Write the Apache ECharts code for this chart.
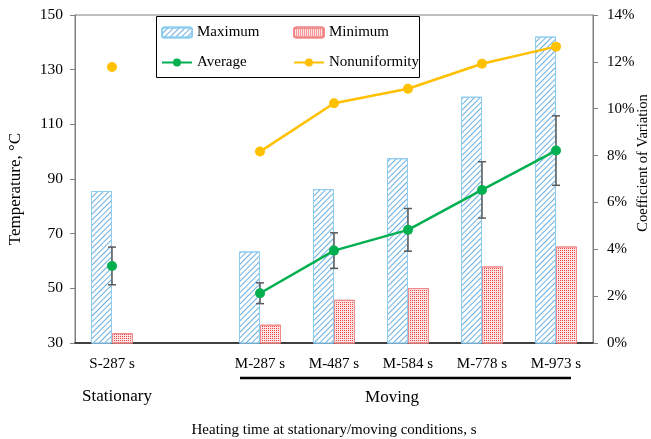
<!DOCTYPE html>
<html><head><meta charset="utf-8">
<script src="https://cdn.jsdelivr.net/npm/echarts@6/dist/echarts.min.js"></script>
<style>html,body{margin:0;padding:0;background:#fff;overflow:hidden}#c{width:651px;height:439px}</style>
</head><body><div id="c"></div>
<script>
var categories = ['S-287 s', '', 'M-287 s', 'M-487 s', 'M-584 s', 'M-778 s', 'M-973 s'];
var maximum = [85.6, null, 63.5, 86.3, 97.6, 120.1, 142.1];
var minimum = [33.6, null, 36.7, 45.8, 50.1, 58.0, 65.3];
var average = [58.2, null, 48.2, 63.8, 71.4, 86.0, 100.4];
var avgError = [6.9, null, 3.8, 6.5, 7.8, 10.3, 12.7];
var nonuniformity = [11.78, null, 8.17, 10.23, 10.85, 11.92, 12.65];
var leftTicks = {min: 30, max: 150, interval: 20};
var rightTicks = {min: 0, max: 14, interval: 2};
var leftTitle = 'Temperature, °C';
var rightTitle = 'Coefficient of Variation';
var xTitle = 'Heating time at stationary/moving conditions, s';
var groupLabels = ['Stationary', 'Moving'];

var FONT = 'Liberation Serif';
var errData = [];
for (var i = 0; i < categories.length; i++) {
  if (average[i] != null) errData.push([i, average[i] - avgError[i], average[i] + avgError[i]]);
}
var chart = echarts.init(document.getElementById('c'));
chart.setOption({
  animation: false,
  textStyle: {fontFamily: FONT},
  grid: {left: 75, right: 58, top: 15, bottom: 96, show: true, borderColor: '#7f7f7f', borderWidth: 1,
         outerBoundsMode: 'none', containLabel: false},
  legend: [
    {left: 161, top: 25, orient: 'vertical', padding: 0, itemWidth: 30, itemHeight: 10, itemGap: 15,
     data: ['Maximum', 'Average'], textStyle: {fontFamily: FONT, fontSize: 15, color: '#000', lineHeight: 15}},
    {left: 293, top: 25, orient: 'vertical', padding: 0, itemWidth: 30, itemHeight: 10, itemGap: 15,
     data: ['Minimum', 'Nonuniformity'], textStyle: {fontFamily: FONT, fontSize: 15, color: '#000', lineHeight: 15}}
  ],
  graphic: [
    {type: 'rect', left: 156, top: 16, z: 3, shape: {width: 263, height: 61}, style: {fill: '#fff', stroke: '#000', lineWidth: 1}},
    {type: 'line', z: 3, shape: {x1: 240, y1: 378, x2: 571, y2: 378}, style: {stroke: '#000', lineWidth: 2.5}},
    {type: 'text', z: 3, x: 117, y: 397, style: {text: groupLabels[0], font: '17px "Liberation Serif"', fill: '#000', textAlign: 'center', textVerticalAlign: 'middle'}},
    {type: 'text', z: 3, x: 392, y: 398, style: {text: groupLabels[1], font: '17px "Liberation Serif"', fill: '#000', textAlign: 'center', textVerticalAlign: 'middle'}},
    {type: 'text', z: 3, x: 16, y: 189, rotation: Math.PI / 2, style: {text: leftTitle, font: '17px "Liberation Serif"', fill: '#000', textAlign: 'center', textVerticalAlign: 'middle'}},
    {type: 'text', z: 3, x: 643, y: 163, rotation: Math.PI / 2, style: {text: rightTitle, font: '14.5px "Liberation Serif"', fill: '#000', textAlign: 'center', textVerticalAlign: 'middle'}}
  ],
  xAxis: {
    type: 'category', data: categories,
    name: xTitle, nameLocation: 'middle', nameGap: 80,
    nameTextStyle: {fontFamily: FONT, fontSize: 15, color: '#000'},
    axisLine: {lineStyle: {color: '#404040', width: 2}},
    axisTick: {show: false},
    axisLabel: {fontFamily: FONT, fontSize: 15, color: '#000', margin: 14, interval: 0}
  },
  yAxis: [
    {type: 'value', min: leftTicks.min, max: leftTicks.max, interval: leftTicks.interval,
     splitLine: {show: false},
     axisLine: {show: true, lineStyle: {color: '#7f7f7f'}},
     axisTick: {show: true, inside: false, length: 5, lineStyle: {color: '#7f7f7f'}},
     axisLabel: {fontFamily: FONT, fontSize: 15.5, color: '#000', margin: 12}},
    {type: 'value', min: rightTicks.min, max: rightTicks.max, interval: rightTicks.interval, position: 'right',
     splitLine: {show: false},
     axisLine: {show: true, lineStyle: {color: '#7f7f7f'}},
     axisTick: {show: true, inside: false, length: 5, lineStyle: {color: '#7f7f7f'}},
     axisLabel: {fontFamily: FONT, fontSize: 15, color: '#000', margin: 14, formatter: '{value}%'}}
  ],
  series: [
    {name: 'Maximum', type: 'bar', data: maximum, barWidth: 21, barGap: '0%', z: 2,
     itemStyle: {color: '#ffffff', borderColor: '#8fcdf0', borderWidth: 1,
       decal: {symbol: 'rect', symbolSize: 1, color: '#6aaee0', dashArrayX: [1, 0], dashArrayY: [1, 2.5], rotation: -Math.PI / 4}}},
    {name: 'Minimum', type: 'bar', data: minimum, barWidth: 21, z: 2,
     itemStyle: {color: '#fde2e2', borderColor: '#f08a8a', borderWidth: 1,
       decal: {symbol: 'rect', symbolSize: 1, color: '#ee4b4b', dashArrayX: [1, 1], dashArrayY: [1, 1], rotation: 0}}},
    {name: 'ErrorBars', type: 'custom', data: errData, z: 3,
     renderItem: function (params, api) {
       var x = api.value(0);
       var top = api.coord([x, api.value(2)]);
       var bot = api.coord([x, api.value(1)]);
       var w = 4;
       var st = {stroke: '#595959', lineWidth: 1.5};
       return {type: 'group', children: [
         {type: 'line', shape: {x1: top[0], y1: top[1], x2: bot[0], y2: bot[1]}, style: st},
         {type: 'line', shape: {x1: top[0] - w, y1: top[1], x2: top[0] + w, y2: top[1]}, style: st},
         {type: 'line', shape: {x1: bot[0] - w, y1: bot[1], x2: bot[0] + w, y2: bot[1]}, style: st}
       ]};
     }},
    {name: 'Average', type: 'line', data: average, z: 4, symbol: 'circle', symbolSize: 10,
     lineStyle: {color: '#00b050', width: 2.5}, itemStyle: {color: '#00b050'}},
    {name: 'Nonuniformity', type: 'line', yAxisIndex: 1, data: nonuniformity, z: 4, symbol: 'circle', symbolSize: 10,
     lineStyle: {color: '#ffc000', width: 2.5}, itemStyle: {color: '#ffc000'}}
  ]
});
</script></body></html>
